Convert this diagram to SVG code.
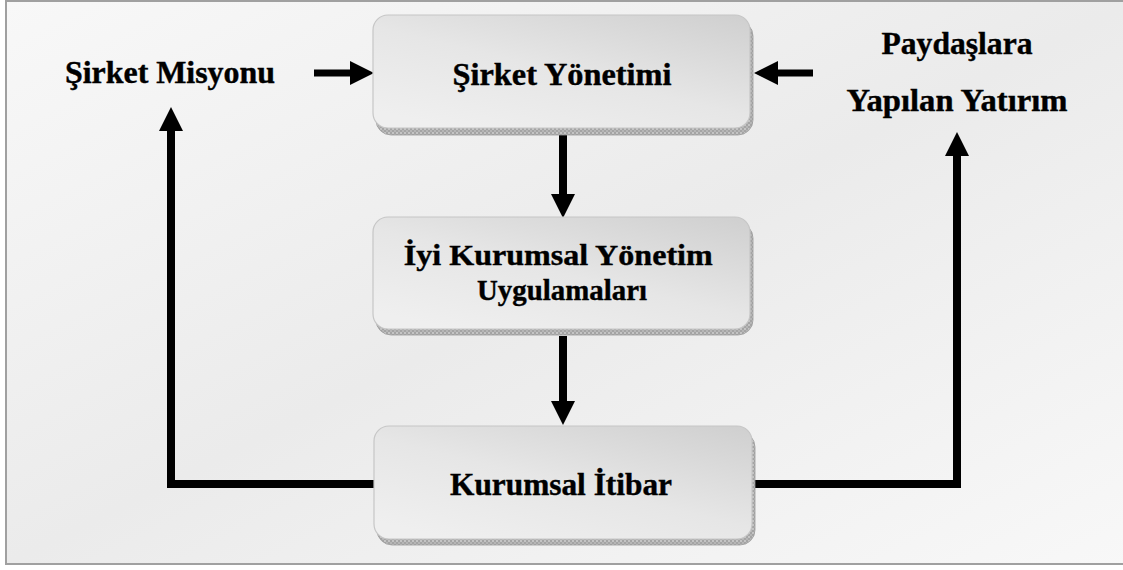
<svg xmlns="http://www.w3.org/2000/svg" width="1123" height="570" viewBox="0 0 1123 570">
  <defs>
    <linearGradient id="bg" x1="0" y1="0" x2="1" y2="1">
      <stop offset="0" stop-color="#f8f8f8"/>
      <stop offset="0.5" stop-color="#ebebeb"/>
      <stop offset="1" stop-color="#f8f8f8"/>
    </linearGradient>
    <linearGradient id="face" x1="1" y1="0" x2="0.2" y2="1">
      <stop offset="0" stop-color="#cfcfcf"/>
      <stop offset="0.55" stop-color="#e6e6e6"/>
      <stop offset="1" stop-color="#efefef"/>
    </linearGradient>
    <pattern id="grain" width="4" height="4" patternUnits="userSpaceOnUse">
      <rect width="4" height="4" fill="#a4a4a4"/>
      <rect x="0" y="0" width="2" height="2" fill="#c4c4c4"/>
      <rect x="2" y="2" width="2" height="2" fill="#b6b6b6"/>
    </pattern>
    <marker id="head" viewBox="0 -12 24 24" markerWidth="24" markerHeight="24" refX="1" refY="0" orient="auto" markerUnits="userSpaceOnUse">
      <path d="M0,-12 L24,0 L0,12 Z" fill="#000"/>
    </marker>
    <style>
      .lbl { font-family: "Liberation Serif", "Times New Roman", serif; font-weight: bold; font-size: 31px; fill: #000; stroke: #000; stroke-width: 0.4; text-anchor: middle; }
      .lbl.two { font-size: 30px; }
      .shadow { fill: url(#grain); stroke: #9a9a9a; stroke-width: 0.8; }
      .face { fill: url(#face); stroke: #c6c6c6; stroke-width: 1.2; }
      .wire { fill: none; stroke: #000; stroke-width: 8; stroke-linejoin: miter; }
      .wire.thin { stroke-width: 7; }
    </style>
  </defs>

  <!-- page background and frame -->
  <rect x="0" y="0" width="1123" height="570" fill="#ffffff"/>
  <rect x="6" y="1" width="1130" height="563" fill="url(#bg)" stroke="#a0a0a0" stroke-width="2"/>

  <!-- connectors -->
  <g id="connectors">
    <path class="wire thin" d="M314,73 H351" marker-end="url(#head)"/>
    <path class="wire thin" d="M813,73 H777" marker-end="url(#head)"/>
    <path class="wire" d="M563,131 V195" marker-end="url(#head)"/>
    <path class="wire" d="M563,336 V402" marker-end="url(#head)"/>
    <path class="wire" d="M375,484 H171 V130" marker-end="url(#head)"/>
    <path class="wire" d="M753,484 H957 V155" marker-end="url(#head)"/>
  </g>

  <!-- free labels -->
  <g id="sirket-misyonu">
    <text class="lbl" x="170" y="83" textLength="210" lengthAdjust="spacingAndGlyphs">Şirket Misyonu</text>
  </g>
  <g id="paydaslara-yatirim">
    <text class="lbl" x="957" y="54" textLength="151" lengthAdjust="spacingAndGlyphs">Paydaşlara</text>
    <text class="lbl" x="957" y="111" textLength="221" lengthAdjust="spacingAndGlyphs">Yapılan Yatırım</text>
  </g>

  <!-- boxed nodes -->
  <g id="sirket-yonetimi">
    <rect class="shadow" x="376" y="21" width="377" height="114" rx="15"/>
    <rect class="face" x="373" y="15" width="377" height="113" rx="15"/>
    <text class="lbl" x="562" y="85" textLength="219" lengthAdjust="spacingAndGlyphs">Şirket Yönetimi</text>
  </g>

  <g id="iyi-kurumsal-yonetim">
    <rect class="shadow" x="376" y="223" width="377" height="112" rx="15"/>
    <rect class="face" x="373" y="217" width="377" height="112" rx="15"/>
    <text class="lbl two">
      <tspan x="562" y="265" textLength="309" lengthAdjust="spacingAndGlyphs">İyi Kurumsal Yönetim</tspan>
      <tspan x="562" y="300" textLength="170" lengthAdjust="spacingAndGlyphs">Uygulamaları</tspan>
    </text>
  </g>

  <g id="kurumsal-itibar">
    <rect class="shadow" x="377" y="432" width="378" height="113" rx="15"/>
    <rect class="face" x="374" y="426" width="378" height="113" rx="15"/>
    <text class="lbl" x="561" y="495" textLength="222" lengthAdjust="spacingAndGlyphs">Kurumsal İtibar</text>
  </g>
</svg>
